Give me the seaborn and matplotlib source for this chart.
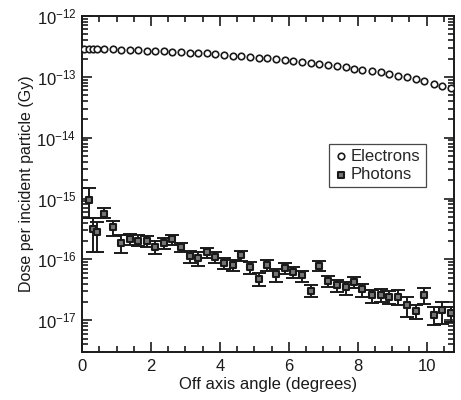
import numpy as np
import pandas as pd
import seaborn as sns
import matplotlib.pyplot as plt
from matplotlib.ticker import FixedLocator, LogFormatterSciNotation, MultipleLocator, NullFormatter

# Electrons (open circles)
elec_angle = [0.05, 0.19, 0.32, 0.43, 0.63, 0.89, 1.13, 1.38, 1.62, 1.88,
              2.13, 2.37, 2.62, 2.87, 3.12, 3.36, 3.62, 3.87, 4.12, 4.38,
              4.62, 4.88, 5.13, 5.38, 5.63, 5.88, 6.13, 6.39, 6.64, 6.89,
              7.15, 7.39, 7.65, 7.90, 8.14, 8.41, 8.67, 8.92, 9.18, 9.43,
              9.69, 9.94, 10.21, 10.46, 10.72]
elec_dose = [2.86e-13, 2.87e-13, 2.88e-13, 2.85e-13, 2.84e-13, 2.82e-13, 2.79e-13, 2.77e-13, 2.74e-13, 2.70e-13,
             2.66e-13, 2.62e-13, 2.58e-13, 2.54e-13, 2.50e-13, 2.47e-13, 2.42e-13, 2.36e-13, 2.30e-13, 2.23e-13,
             2.17e-13, 2.12e-13, 2.06e-13, 2.01e-13, 1.95e-13, 1.89e-13, 1.82e-13, 1.75e-13, 1.69e-13, 1.62e-13,
             1.55e-13, 1.49e-13, 1.43e-13, 1.37e-13, 1.31e-13, 1.25e-13, 1.18e-13, 1.12e-13, 1.05e-13, 0.99e-13,
             0.92e-13, 0.85e-13, 0.77e-13, 0.70e-13, 0.65e-13]

# Photons (squares with error bars)
phot_angle = [0.19, 0.32, 0.43, 0.63, 0.89, 1.13, 1.38, 1.62, 1.88, 2.13,
              2.37, 2.62, 2.87, 3.12, 3.36, 3.62, 3.87, 4.12, 4.38, 4.62,
              4.88, 5.13, 5.38, 5.63, 5.88, 6.13, 6.39, 6.64, 6.89, 7.15,
              7.39, 7.65, 7.90, 8.14, 8.41, 8.67, 8.92, 9.18, 9.43, 9.69,
              9.94, 10.21, 10.46, 10.72]
phot_dose = [9.5e-16, 3.2e-16, 2.84e-16, 5.6e-16, 3.39e-16, 1.85e-16, 2.18e-16, 2.04e-16, 2.02e-16, 1.57e-16,
             1.85e-16, 2.15e-16, 1.59e-16, 1.12e-16, 1.05e-16, 1.32e-16, 1.10e-16, 8.7e-17, 8.15e-17, 1.16e-16,
             7.36e-17, 4.8e-17, 8.15e-17, 5.74e-17, 7.2e-17, 6.2e-17, 5.44e-17, 3.05e-17, 7.64e-17, 4.46e-17,
             3.73e-17, 3.46e-17, 4.18e-17, 3.25e-17, 2.55e-17, 2.6e-17, 2.4e-17, 2.45e-17, 1.75e-17, 1.40e-17,
             2.6e-17, 1.23e-17, 1.45e-17, 1.31e-17]
phot_hi = [1.5e-15, 4.8e-16, 4.1e-16, 6.95e-16, 4.3e-16, 2.47e-16, 2.6e-16, 2.55e-16, 2.44e-16, 1.97e-16,
           2.24e-16, 2.55e-16, 1.85e-16, 1.35e-16, 1.32e-16, 1.53e-16, 1.32e-16, 1.07e-16, 9.8e-17, 1.39e-16,
           9.0e-17, 5.95e-17, 9.8e-17, 7.0e-17, 8.7e-17, 7.5e-17, 6.5e-17, 3.83e-17, 9.5e-17, 5.38e-17,
           4.62e-17, 4.23e-17, 5.2e-17, 3.97e-17, 3.17e-17, 3.3e-17, 3.0e-17, 3.17e-17, 2.37e-17, 1.8e-17,
           3.4e-17, 1.62e-17, 1.99e-17, 1.67e-17]
phot_lo = [4.8e-16, 1.33e-16, 1.33e-16, 4.77e-16, 2.38e-16, 1.27e-16, 1.69e-16, 1.63e-16, 1.61e-16, 1.22e-16,
           1.49e-16, 1.69e-16, 1.30e-16, 8.7e-17, 7.9e-17, 1.07e-16, 8.7e-17, 7.0e-17, 6.5e-17, 9.5e-17,
           5.7e-17, 3.6e-17, 6.5e-17, 4.23e-17, 5.7e-17, 4.93e-17, 4.23e-17, 2.37e-17, 6.33e-17, 3.46e-17,
           2.86e-17, 2.62e-17, 3.4e-17, 2.37e-17, 1.91e-17, 2.0e-17, 1.87e-17, 1.78e-17, 1.11e-17, 1.06e-17,
           1.87e-17, 8.4e-18, 8.7e-18, 9.4e-18]

y_decades = [1e-17, 1e-16, 1e-15, 1e-14, 1e-13, 1e-12]


def main():
    elec = pd.DataFrame({"angle": elec_angle, "dose": elec_dose})
    phot = pd.DataFrame({"angle": phot_angle, "dose": phot_dose,
                         "hi": phot_hi, "lo": phot_lo})

    sns.set_style("ticks")
    plt.rcParams["font.family"] = ["Liberation Sans", "DejaVu Sans"]

    fig = plt.figure(figsize=(4.61, 4.0), dpi=100)
    ax = fig.add_axes([0.178, 0.12, 0.807, 0.84])

    # error bars first so markers sit on top
    ax.errorbar(phot["angle"], phot["dose"],
                yerr=[phot["dose"] - phot["lo"], phot["hi"] - phot["dose"]],
                fmt="none", ecolor="#1a1a1a", elinewidth=1.4, capsize=5,
                capthick=1.4, zorder=2)

    sns.scatterplot(data=elec, x="angle", y="dose", ax=ax, marker="o",
                    s=22, facecolor="white", edgecolor="#1a1a1a",
                    linewidth=1.2, label="Electrons", zorder=3)
    sns.scatterplot(data=phot, x="angle", y="dose", ax=ax, marker="s",
                    s=20, facecolor="#777777", edgecolor="#1a1a1a",
                    linewidth=1.5, label="Photons", zorder=4)

    ax.set_yscale("log")
    ax.set_xlim(0, 10.8)
    ax.set_ylim(3e-18, 1e-12)

    ax.xaxis.set_major_locator(MultipleLocator(2))
    ax.xaxis.set_minor_locator(MultipleLocator(0.5))

    # only the ticks inside the view, so no labels sit off the figure
    minor = [m * d for d in [1e-18] + y_decades[:-1] for m in range(2, 10)]
    minor = [v for v in minor if 3e-18 <= v <= 1e-12]
    ax.yaxis.set_major_locator(FixedLocator(y_decades))
    ax.yaxis.set_major_formatter(LogFormatterSciNotation())
    ax.yaxis.set_minor_locator(FixedLocator(minor))
    ax.yaxis.set_minor_formatter(NullFormatter())

    ax.tick_params(which="both", direction="in", top=True, right=True,
                   colors="#1a1a1a", labelsize=12, width=1.2)
    ax.tick_params(which="major", length=7, pad=5)
    ax.tick_params(axis="y", which="major", pad=4)
    ax.tick_params(which="minor", length=4)
    for sp in ax.spines.values():
        sp.set_linewidth(1.4)
        sp.set_color("#1a1a1a")

    ax.set_xlabel("Off axis angle (degrees)", fontsize=12, color="#1a1a1a", labelpad=2)
    ax.set_ylabel("Dose per incident particle (Gy)", fontsize=11.5, color="#1a1a1a")
    ax.yaxis.set_label_coords(-0.13, 0.5)

    leg = ax.legend(loc="upper left", bbox_to_anchor=(0.665, 0.62), fontsize=12,
                    frameon=True, fancybox=False, handletextpad=0.2,
                    borderpad=0.3, handlelength=0.8, labelspacing=0.2,
                    borderaxespad=0)
    leg.get_frame().set_edgecolor("#1a1a1a")
    leg.get_frame().set_linewidth(0.9)

    fig.savefig("out.png", dpi=100)


if __name__ == "__main__":
    main()
